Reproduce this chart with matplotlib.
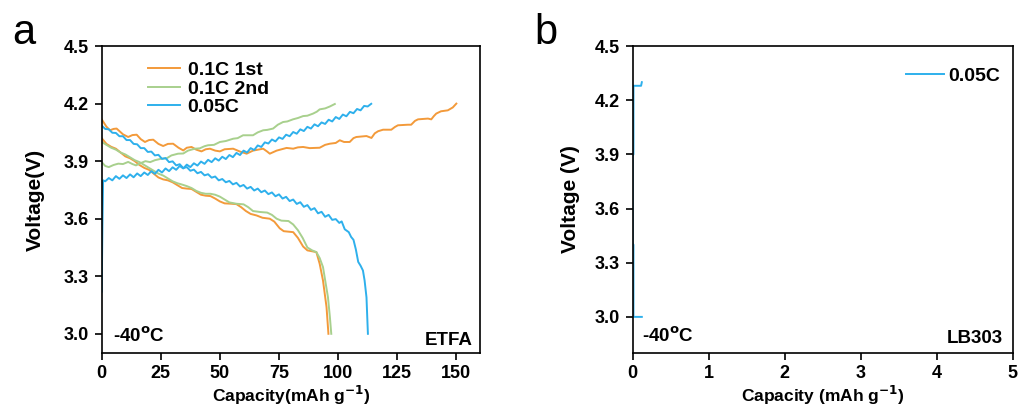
import matplotlib
matplotlib.use('Agg')
import matplotlib.pyplot as plt

plt.rcParams['font.family'] = ['Liberation Sans', 'DejaVu Sans']
plt.rcParams['font.weight'] = 'bold'
plt.rcParams['axes.labelweight'] = 'bold'

# ETFA panel, 0.1C 1st cycle
c1_chg_x = [0, 2, 3.5, 5, 6.3, 9, 11.2, 13, 14.8, 16.5, 18.3, 20, 21.8, 24, 26, 28, 30.2, 32.5,
            34.5, 36, 38, 40, 42.2, 44, 45.8, 48, 50, 52, 55.6, 58.5, 61.3, 64, 68.3, 70, 71.1,
            74, 78.2, 81, 83, 85.2, 88, 90, 92.2, 94.5, 96.5, 99, 100.7, 102.5, 104.9, 106.5,
            107.7, 112, 114.1, 115.5, 116.9, 119, 122.5, 124, 125.3, 129.5, 130.9, 132.5, 133.8,
            138, 139.4, 140.5, 141.5, 143.5, 146.4, 148.5, 150]
c1_chg_v = [4.118, 4.08, 4.061, 4.068, 4.07, 4.04, 4.026, 4.036, 4.038, 4.015, 4.0, 4.01, 4.012,
            3.99, 3.979, 3.99, 3.991, 3.97, 3.956, 3.97, 3.974, 3.96, 3.951, 3.962, 3.965, 3.955,
            3.951, 3.962, 3.965, 3.95, 3.939, 3.955, 3.965, 3.95, 3.939, 3.955, 3.969, 3.965,
            3.972, 3.974, 3.968, 3.969, 3.97, 3.985, 3.991, 3.995, 4.009, 4.0, 4.0, 4.02, 4.026,
            4.031, 4.021, 4.045, 4.056, 4.064, 4.064, 4.078, 4.087, 4.09, 4.09, 4.11, 4.118,
            4.122, 4.118, 4.135, 4.148, 4.16, 4.165, 4.18, 4.2]
c1_dis_x = [0, 2, 4, 6, 8, 10, 12, 14, 16, 18, 20, 22, 24, 26, 28, 30, 32, 34, 36, 38, 40, 42,
            44, 46, 48, 50, 52, 55, 57, 59, 61, 63, 65.5, 68, 71.1, 73, 75.3, 77, 81, 83, 85.2,
            87, 90.8, 92.2, 93.6, 95.1, 95.9]
c1_dis_v = [4.02, 3.99, 3.975, 3.965, 3.945, 3.925, 3.915, 3.9, 3.88, 3.865, 3.855, 3.835, 3.815,
            3.805, 3.8, 3.79, 3.775, 3.76, 3.757, 3.755, 3.74, 3.725, 3.72, 3.718, 3.705, 3.69,
            3.68, 3.678, 3.676, 3.66, 3.64, 3.625, 3.617, 3.605, 3.6, 3.585, 3.55, 3.535, 3.53,
            3.5, 3.455, 3.435, 3.426, 3.365, 3.278, 3.139, 3.0]

# 0.1C 2nd cycle
c2_chg_x = [0, 1.5, 3, 5, 7, 9, 11.2, 13, 14.5, 16.5, 18.5, 20.5, 22.5, 25.3, 27.5, 29.5, 32.3,
            34.5, 36.5, 39.4, 41.5, 43.5, 45, 47.5, 50, 52.5, 55.6, 57.5, 59.8, 64, 66, 68.3, 70,
            72.5, 74.5, 76.7, 78.5, 80.9, 83, 85.2, 87, 89.4, 91, 92.2, 94.5, 96.5, 98.6]
c2_chg_v = [3.895, 3.875, 3.869, 3.88, 3.887, 3.885, 3.896, 3.885, 3.878, 3.89, 3.9, 3.895,
            3.905, 3.913, 3.915, 3.93, 3.939, 3.94, 3.955, 3.965, 3.967, 3.978, 3.983, 3.985,
            4.0, 4.005, 4.017, 4.02, 4.035, 4.035, 4.05, 4.061, 4.063, 4.07, 4.09, 4.104, 4.107,
            4.118, 4.125, 4.135, 4.137, 4.148, 4.158, 4.17, 4.175, 4.185, 4.198]
c2_dis_x = [0, 2, 4, 6, 8, 10, 12, 14, 16, 18, 20, 22, 24, 26, 28, 30, 32, 34, 36, 38, 40, 42,
            44, 46, 48, 50, 52, 54, 57, 60, 62, 64, 67, 70, 72, 74, 76, 79, 81, 83, 85, 87, 89,
            90.8, 92.2, 93.6, 95.7, 96.5, 97.1]
c2_dis_v = [4.0, 3.985, 3.97, 3.96, 3.945, 3.935, 3.92, 3.905, 3.895, 3.88, 3.865, 3.85, 3.835,
            3.825, 3.81, 3.795, 3.785, 3.778, 3.77, 3.76, 3.745, 3.735, 3.73, 3.73, 3.725, 3.715,
            3.7, 3.685, 3.678, 3.675, 3.66, 3.64, 3.635, 3.632, 3.62, 3.6, 3.59, 3.588, 3.57,
            3.54, 3.5, 3.45, 3.435, 3.426, 3.395, 3.348, 3.191, 3.09, 3.0]

# 0.05C
c3_chg_x = [0, 0.3, 0.6, 1.5, 3.0, 4.5, 6.0, 7.5, 9.0, 10.5, 12.0, 13.5, 15.0, 16.5, 18.0, 19.5,
            21.0, 22.5, 24.0, 25.5, 27.0, 28.5, 30.0, 31.5, 33.0, 34.5, 36.0, 37.5, 39.0, 40.5,
            42.0, 43.5, 45.0, 46.5, 48.0, 49.5, 51.0, 52.5, 54.0, 55.5, 57.0, 58.5, 60.0, 61.5,
            63.0, 64.5, 66.0, 67.5, 69.0, 70.5, 72.0, 73.5, 75.0, 76.5, 78.0, 79.5, 81.0, 82.5,
            84.0, 85.5, 87.0, 88.5, 90.0, 91.5, 93.0, 94.5, 96.0, 97.5, 99.0, 100.5, 102.0, 103.5,
            105.0, 106.5, 108.0, 109.5, 111.0, 112.5, 114.0]
c3_chg_v = [3.22, 3.55, 3.8, 3.795, 3.812, 3.8, 3.822, 3.808, 3.826, 3.812, 3.831, 3.816, 3.836,
            3.822, 3.841, 3.828, 3.848, 3.834, 3.855, 3.841, 3.862, 3.848, 3.868, 3.855, 3.875,
            3.862, 3.882, 3.869, 3.889, 3.877, 3.898, 3.886, 3.907, 3.895, 3.915, 3.903, 3.923,
            3.911, 3.932, 3.921, 3.943, 3.932, 3.955, 3.945, 3.968, 3.958, 3.982, 3.974, 3.998,
            3.992, 4.013, 4.003, 4.024, 4.016, 4.038, 4.03, 4.052, 4.043, 4.066, 4.057, 4.079,
            4.07, 4.092, 4.082, 4.102, 4.094, 4.116, 4.107, 4.13, 4.12, 4.143, 4.134, 4.157,
            4.15, 4.172, 4.165, 4.188, 4.185, 4.199]
c3_dis_x = [0, 1.5, 3.0, 4.5, 6.0, 7.5, 9.0, 10.5, 12.0, 13.5, 15.0, 16.5, 18.0, 19.5, 21.0,
            22.5, 24.0, 25.5, 27.0, 28.5, 30.0, 31.5, 33.0, 34.5, 36.0, 37.5, 39.0, 40.5, 42.0,
            43.5, 45.0, 46.5, 48.0, 49.5, 51.0, 52.5, 54.0, 55.5, 57.0, 58.5, 60.0, 61.5, 63.0,
            64.5, 66.0, 67.5, 69.0, 70.5, 72.0, 73.5, 75.0, 76.5, 78.0, 79.5, 81.0, 82.5, 84.0,
            85.5, 87.0, 88.5, 90.0, 91.5, 93.0, 94.5, 96.0, 97.5, 99.0, 100.5, 101.5, 102.8,
            104.5, 105.5, 106.5, 107.5, 108.5, 109.5, 110.5, 111.2, 112.0, 112.6]
c3_dis_v = [4.085, 4.068, 4.066, 4.048, 4.047, 4.03, 4.03, 4.01, 4.01, 3.99, 3.988, 3.968, 3.968,
            3.948, 3.95, 3.93, 3.933, 3.912, 3.916, 3.895, 3.899, 3.878, 3.884, 3.864, 3.869,
            3.85, 3.856, 3.837, 3.844, 3.826, 3.832, 3.814, 3.82, 3.8, 3.807, 3.79, 3.797, 3.779,
            3.787, 3.768, 3.776, 3.757, 3.766, 3.747, 3.757, 3.738, 3.747, 3.728, 3.737, 3.717,
            3.727, 3.705, 3.714, 3.692, 3.7, 3.677, 3.686, 3.662, 3.671, 3.646, 3.655, 3.628,
            3.636, 3.61, 3.62, 3.594, 3.598, 3.578, 3.586, 3.545, 3.53, 3.505, 3.49, 3.44, 3.375,
            3.355, 3.33, 3.278, 3.19, 3.0]

# LB303 panel, 0.05C
lb_x = [0.12, 0.06, 0.01, 0.01, 0.0, 0.0, 0.01, 0.01, 0.08, 0.11, 0.12]
lb_v = [3.0, 3.0, 3.0, 3.4, 3.4, 3.9, 3.9, 4.28, 4.28, 4.28, 4.3]

series_labels = ['0.1C 1st', '0.1C 2nd', '0.05C']
colors = ['#F39A3A', '#A8D08D', '#2EB0EC']
volt_ticks = [3.0, 3.3, 3.6, 3.9, 4.2, 4.5]

fig = plt.figure(figsize=(10.21, 4.15), dpi=100)
ax1 = fig.add_axes([0.0996, 0.1494, 0.3705, 0.7396])
ax2 = fig.add_axes([0.6197, 0.1494, 0.3722, 0.7396])

curves = [(c1_chg_x, c1_chg_v, c1_dis_x, c1_dis_v),
          (c2_chg_x, c2_chg_v, c2_dis_x, c2_dis_v),
          (c3_chg_x, c3_chg_v, c3_dis_x, c3_dis_v)]
for (cx, cv, dx, dv), lab, col in zip(curves, series_labels, colors):
    ax1.plot(cx, cv, color=col, lw=1.4, label=lab)
    ax1.plot(dx, dv, color=col, lw=1.4)

ax2.plot(lb_x, lb_v, color=colors[2], lw=1.4, label='0.05C')

ax1.set_xlim(0, 160)
ax1.set_ylim(2.9, 4.5)
ax1.set_xticks([0, 25, 50, 75, 100, 125, 150])
ax1.set_ylabel('Voltage(V)', fontsize=15)
ax1.set_xlabel('Capacity(mAh g$^{\\mathbf{-1}}$)', fontsize=12.5)
ax1.yaxis.set_label_coords(-0.15, 0.5)

ax2.set_xlim(0, 5)
ax2.set_ylim(2.8, 4.5)
ax2.set_xticks([0, 1, 2, 3, 4, 5])
ax2.set_ylabel('Voltage (V)', fontsize=15)
ax2.set_xlabel('Capacity (mAh g$^{\\mathbf{-1}}$)', fontsize=12.5)
ax2.yaxis.set_label_coords(-0.139, 0.5)

for ax in (ax1, ax2):
    ax.set_yticks(volt_ticks)
    ax.set_yticklabels([f'{t:.1f}' for t in volt_ticks])
    ax.tick_params(direction='out', length=5, width=1.2, labelsize=13, pad=4)
    for s in ax.spines.values():
        s.set_linewidth(1.2)
    ax.xaxis.set_label_coords(0.5, -0.1)

ax1.text(0.03, 0.037, '-40$^{\\mathbf{o}}$C', transform=ax1.transAxes, fontsize=13.5,
         ha='left', va='baseline')
ax2.text(0.024, 0.037, '-40$^{\\mathbf{o}}$C', transform=ax2.transAxes, fontsize=13.5,
         ha='left', va='baseline')
ax1.text(0.981, 0.026, 'ETFA', transform=ax1.transAxes, fontsize=13.5, ha='right',
         va='baseline')
ax2.text(0.975, 0.033, 'LB303', transform=ax2.transAxes, fontsize=13.5, ha='right',
         va='baseline')

ax1.legend(loc='upper left', bbox_to_anchor=(0.122, 0.95), frameon=False, fontsize=14,
           handlelength=1.65, handletextpad=0.4, labelspacing=0.05, borderpad=0,
           borderaxespad=0)
ax2.legend(loc='upper right', bbox_to_anchor=(0.967, 0.93), frameon=False, fontsize=14,
           handlelength=1.96, handletextpad=0.2, borderpad=0, borderaxespad=0)

fig.text(0.012, 0.895, 'a', fontsize=30, weight='normal')
fig.text(0.523, 0.895, 'b', fontsize=30, weight='normal')

fig.savefig('out.png', dpi=100)
